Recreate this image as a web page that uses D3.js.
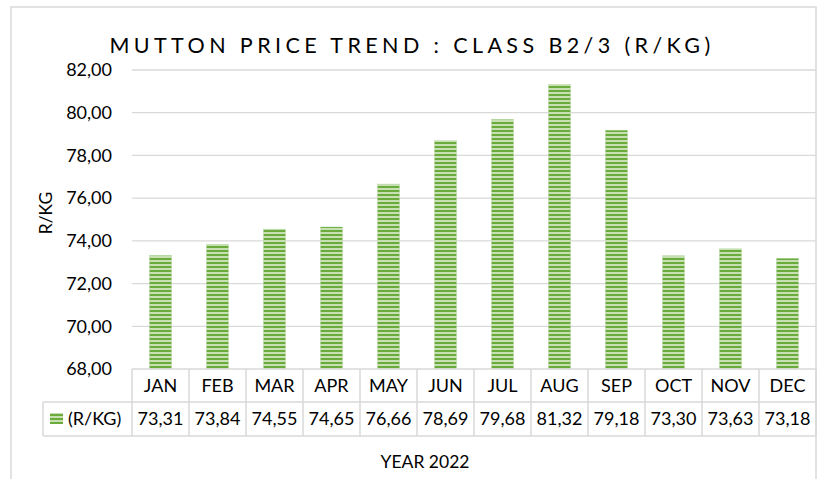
<!DOCTYPE html>
<html>
<head>
<meta charset="utf-8">
<script src="https://cdn.jsdelivr.net/npm/d3@7"></script>
<style>
  html, body { margin: 0; padding: 0; background: #fff; }
  svg { display: block; font-family: "Lato", "Open Sans", sans-serif; }
</style>
</head>
<body>
<svg id="chart" width="822" height="479"></svg>
<script>
const months = ["JAN","FEB","MAR","APR","MAY","JUN","JUL","AUG","SEP","OCT","NOV","DEC"];
const prices = [73.31, 73.84, 74.55, 74.65, 76.66, 78.69, 79.68, 81.32, 79.18, 73.30, 73.63, 73.18];
const yTicks = [68, 70, 72, 74, 76, 78, 80, 82];
const seriesName = "(R/KG)";
const titleText = "MUTTON PRICE TREND : CLASS B2/3 (R/KG)";
const yTitle = "R/KG";
const xTitle = "YEAR 2022";

(function () {
const svg = d3.select("#chart");
const grid = "#d9d9d9";
const dark = "#6aab3c", light = "#c6e0b3";
const fmt = v => d3.format(".2f")(v).replace(".", ",");

const defs = svg.append("defs");
const pat = defs.append("pattern").attr("id", "stripes")
  .attr("patternUnits", "userSpaceOnUse").attr("width", 8).attr("height", 4);
pat.append("rect").attr("width", 8).attr("height", 4).attr("fill", light);
pat.append("rect").attr("y", 2).attr("width", 8).attr("height", 2).attr("fill", dark);

svg.append("rect").attr("x", 11).attr("y", 7).attr("width", 805).attr("height", 480)
  .attr("fill", "none").attr("stroke", grid).attr("stroke-width", 1.5);

const pLeft = 132, pRight = 816, pTop = 70, pBottom = 369;
const x = d3.scaleBand().domain(months).range([pLeft, pRight]).paddingInner(0.614).paddingOuter(0.307);
const cols = d3.scaleBand().domain(months).range([pLeft, pRight]).padding(0);
const y = d3.scaleLinear().domain([68, 82]).range([pBottom, pTop]);

svg.append("g").selectAll("line").data(yTicks.filter(t => t !== 68)).join("line")
  .attr("x1", pLeft).attr("x2", pRight)
  .attr("y1", d => y(d)).attr("y2", d => y(d))
  .attr("stroke", grid).attr("stroke-width", 1.3);

svg.append("g").selectAll("text").data(yTicks).join("text")
  .attr("x", 112).attr("y", d => y(d)).attr("dy", "0.35em")
  .attr("text-anchor", "end").attr("font-size", 18).attr("fill", "#000")
  .text(d => fmt(d));

svg.append("g").selectAll("rect").data(prices).join("rect")
  .attr("x", (d, i) => x(months[i]))
  .attr("width", x.bandwidth())
  .attr("y", d => y(d))
  .attr("height", d => y(68) - y(d))
  .attr("fill", "url(#stripes)")
  .attr("stroke", "#a9d18e").attr("stroke-width", 0.6).attr("stroke-opacity", 0.6);

const r0 = 369, r1 = 402, r2 = 436, legLeft = 43;
const tg = svg.append("g").attr("stroke", grid).attr("stroke-width", 1.5);
tg.append("line").attr("x1", pLeft).attr("x2", pRight).attr("y1", r0).attr("y2", r0);
tg.append("line").attr("x1", legLeft).attr("x2", pRight).attr("y1", r1).attr("y2", r1);
tg.append("line").attr("x1", legLeft).attr("x2", pRight).attr("y1", r2).attr("y2", r2);
tg.append("line").attr("x1", legLeft).attr("x2", legLeft).attr("y1", r1).attr("y2", r2);
tg.selectAll("line.v").data(months.concat(["END"])).join("line").attr("class", "v")
  .attr("x1", (d, i) => i < 12 ? cols(d) : pRight)
  .attr("x2", (d, i) => i < 12 ? cols(d) : pRight)
  .attr("y1", r0).attr("y2", r2);

svg.append("g").selectAll("text").data(months).join("text")
  .attr("x", d => cols(d) + cols.bandwidth() / 2).attr("y", (r0 + r1) / 2).attr("dy", "0.35em")
  .attr("text-anchor", "middle").attr("font-size", 18).text(d => d);

svg.append("g").selectAll("text").data(prices).join("text")
  .attr("x", (d, i) => cols(months[i]) + cols.bandwidth() / 2).attr("y", (r1 + r2) / 2).attr("dy", "0.35em")
  .attr("text-anchor", "middle").attr("font-size", 18).text(d => fmt(d));

svg.append("rect").attr("x", 50).attr("y", 413).attr("width", 13).attr("height", 11).attr("fill", "url(#stripes)");
svg.append("text").attr("x", 68).attr("y", (r1 + r2) / 2).attr("dy", "0.35em")
  .attr("font-size", 18).text(seriesName);

svg.append("text").attr("x", 412).attr("y", 45).attr("dy", "0.35em")
  .attr("text-anchor", "middle").attr("font-size", 21.5).attr("letter-spacing", 4.4)
  .text(titleText);
svg.append("text").attr("transform", "translate(46,213) rotate(-90)").attr("dy", "0.35em")
  .attr("text-anchor", "middle").attr("font-size", 17.5).text(yTitle);
svg.append("text").attr("x", 425).attr("y", 462).attr("dy", "0.35em")
  .attr("text-anchor", "middle").attr("font-size", 17.5).text(xTitle);
})();
</script>
</body>
</html>
